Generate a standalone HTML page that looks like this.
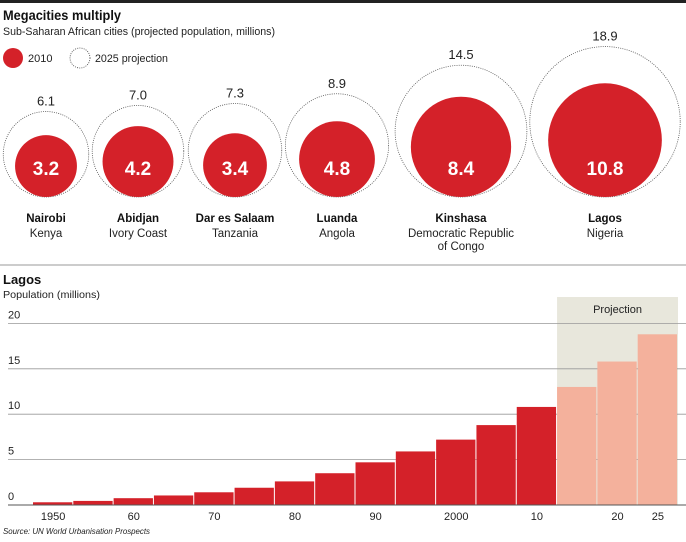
<!DOCTYPE html>
<html><head><meta charset="utf-8"><style>
body{margin:0;background:#fff;}
svg{display:block;font-family:"Liberation Sans",sans-serif;}
</style></head><body>
<svg id="chart" width="686" height="542" viewBox="0 0 686 542">
<rect x="0" y="0" width="686" height="3" fill="#222"/>
<text x="3" y="20" font-size="14" font-weight="bold" fill="#111" textLength="118" lengthAdjust="spacingAndGlyphs">Megacities multiply</text>
<text x="3" y="35" font-size="11" fill="#222" textLength="272" lengthAdjust="spacingAndGlyphs">Sub-Saharan African cities (projected population, millions)</text>
<circle cx="13" cy="58" r="10" fill="#d42129"/>
<text x="28" y="62" font-size="11" fill="#222">2010</text>
<circle cx="80" cy="58" r="10" fill="none" stroke="#444" stroke-width="0.8" stroke-dasharray="1,1.2"/>
<text x="95" y="62" font-size="11" fill="#222" textLength="73" lengthAdjust="spacingAndGlyphs">2025 projection</text>
<g id="bubbles"></g>
<line x1="0" y1="265" x2="686" y2="265" stroke="#999" stroke-width="1"/>
<text x="3" y="284" font-size="13" font-weight="bold" fill="#111">Lagos</text>
<text x="3" y="298" font-size="10.5" fill="#222" textLength="97" lengthAdjust="spacingAndGlyphs">Population (millions)</text>
<g id="bars"></g>
<text x="3" y="534" font-size="8.5" font-style="italic" fill="#222" textLength="147" lengthAdjust="spacingAndGlyphs">Source: UN World Urbanisation Prospects</text>
</svg>
<script>
const cities=["Nairobi","Abidjan","Dar es Salaam","Luanda","Kinshasa","Lagos"];
const countries=[["Kenya"],["Ivory Coast"],["Tanzania"],["Angola"],["Democratic Republic","of Congo"],["Nigeria"]];
const pop2010=[3.2,4.2,3.4,4.8,8.4,10.8];
const pop2025=[6.1,7.0,7.3,8.9,14.5,18.9];
const years=[1950,1955,1960,1965,1970,1975,1980,1985,1990,1995,2000,2005,2010,2015,2020,2025];
const lagosPop=[0.3,0.45,0.75,1.05,1.4,1.9,2.6,3.5,4.7,5.9,7.2,8.8,10.8,13.0,15.8,18.8];
const yTicks=[0,5,10,15,20];
const xTickLabels={1950:"1950",1960:"60",1970:"70",1980:"80",1990:"90",2000:"2000",2010:"10",2020:"20",2025:"25"};
const projectionStart=2015;

const NS="http://www.w3.org/2000/svg";
function mk(tag,attrs,parent,txt){const e=document.createElementNS(NS,tag);for(const k in attrs)e.setAttribute(k,attrs[k]);if(txt!==undefined)e.textContent=txt;parent.appendChild(e);return e;}

// bubbles
const bg=document.getElementById("bubbles");
const centers=[46,138,235,337,461,605];
const k=17.3, bottom=197;
const rScale=v=>k*Math.sqrt(v);
cities.forEach((c,i)=>{
  const cx=centers[i], ro=rScale(pop2025[i]), ri=rScale(pop2010[i]);
  const o=mk("circle",{cx:cx,cy:bottom-ro,r:ro,fill:"none",stroke:"#555","stroke-width":0.8,"stroke-dasharray":"1,1.2"},bg);
  
  
  const ci=mk("circle",{cx:cx,cy:bottom-ri,r:ri,fill:"#d42129"},bg);
  
  
  const t1=mk("text",{x:cx,y:bottom-2*ro-6,"font-size":13,"text-anchor":"middle",fill:"#222"},bg,pop2025[i].toFixed(1));
  
  
  const t2=mk("text",{x:cx,y:175,"font-size":19,"font-weight":"bold","text-anchor":"middle",fill:"#fff"},bg,pop2010[i].toFixed(1));
  
  
  const n=mk("text",{x:cx,y:222,"font-size":11.5,"font-weight":"bold","text-anchor":"middle",fill:"#111"},bg,c);
  
  
  countries[i].forEach((ln,j)=>{
    const t=mk("text",{x:cx,y:237+j*13,"font-size":11.5,"text-anchor":"middle",fill:"#222"},bg,ln);
    
    
  });
});

// bars
const g=document.getElementById("bars");
const x0=33,x1=678,base=505,unit=9.08;
const bw=(x1-x0)/years.length;
const xPos=i=>x0+i*bw;
const yPos=v=>base-v*unit;
const pi=years.indexOf(projectionStart);
const shade=mk("rect",{x:xPos(pi),y:297,width:x1-xPos(pi),height:base-297,fill:"#e8e7dc"},g);


const pl=mk("text",{x:(xPos(pi)+x1)/2,y:313,"font-size":11,"text-anchor":"middle",fill:"#222"},g,"Projection");


yTicks.forEach(t=>{
  const l=mk("line",{x1:8,x2:686,y1:yPos(t),y2:yPos(t),stroke:t===0?"#555":"#999","stroke-width":t===0?1:0.8},g);
  
  
  const tx=mk("text",{x:8,y:yPos(t)-5,"font-size":11,fill:"#222"},g,String(t));
  
  
});
years.forEach((yr,i)=>{
  const r=mk("rect",{x:xPos(i),y:yPos(lagosPop[i]),width:bw-1,height:lagosPop[i]*unit,fill:yr>=projectionStart?"#f4b19c":"#d42129"},g);
  
  
  if(xTickLabels[yr]){
    const t=mk("text",{x:xPos(i)+bw/2,y:520,"font-size":11,"text-anchor":"middle",fill:"#222"},g,xTickLabels[yr]);
    
    
  }
});
const bl=mk("line",{x1:8,x2:686,y1:base,y2:base,stroke:"#555","stroke-width":1},g);


</script>
</body></html>
